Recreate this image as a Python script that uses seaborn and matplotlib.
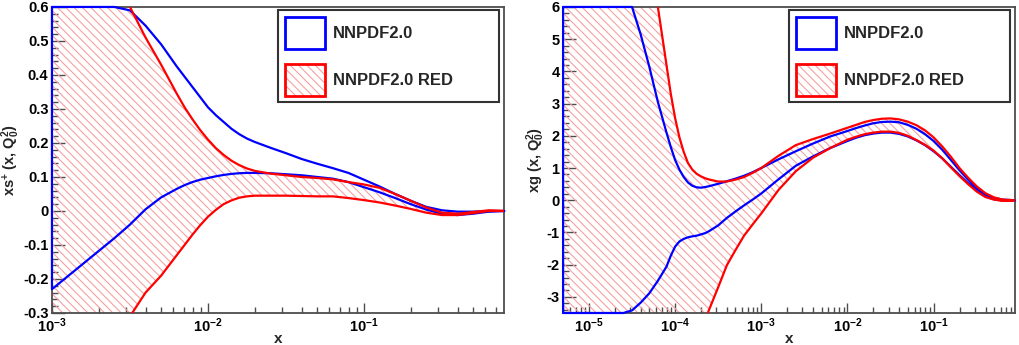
import numpy as np
import pandas as pd
import matplotlib
matplotlib.use("Agg")
import matplotlib.pyplot as plt
import seaborn as sns
from matplotlib.patches import Patch
from matplotlib.ticker import FixedLocator, MultipleLocator, LogLocator, NullFormatter

# --- donnees (log10 x) ---
# panneau gauche : xs+(x, Q0^2)
s_logx = [-3.0, -2.8, -2.6, -2.5, -2.4, -2.3, -2.2, -2.15, -2.1, -2.05, -2.0, -1.95, -1.9, -1.85,
          -1.8, -1.75, -1.7, -1.6, -1.5, -1.4, -1.3, -1.2, -1.1, -1.0, -0.9, -0.8, -0.7, -0.6,
          -0.5, -0.4, -0.3, -0.2, -0.1]
s_blue_up = [0.85, 0.74, 0.64, 0.59, 0.545, 0.49, 0.425, 0.395, 0.365, 0.335, 0.305, 0.282, 0.262, 0.242,
             0.226, 0.213, 0.203, 0.186, 0.17, 0.153, 0.139, 0.126, 0.112, 0.092, 0.072, 0.05, 0.03, 0.012,
             0.002, -0.002, -0.002, 0.0, 0.0]
s_blue_lo = [-0.23, -0.155, -0.08, -0.04, 0.005, 0.04, 0.065, 0.076, 0.085, 0.092, 0.097, 0.102, 0.106, 0.109,
             0.111, 0.112, 0.112, 0.111, 0.108, 0.105, 0.10, 0.095, 0.085, 0.07, 0.055, 0.038, 0.02, 0.004,
             -0.008, -0.012, -0.008, -0.002, 0.0]
s_red_up = [1.4, 1.0, 0.72, 0.60, 0.51, 0.43, 0.345, 0.305, 0.27, 0.238, 0.21, 0.185, 0.165, 0.148,
            0.135, 0.125, 0.118, 0.11, 0.105, 0.10, 0.097, 0.093, 0.085, 0.078, 0.068, 0.05, 0.03, 0.01,
            -0.005, -0.008, -0.003, 0.002, 0.0]
s_red_lo = [-0.8, -0.6, -0.4, -0.31, -0.24, -0.19, -0.13, -0.10, -0.07, -0.042, -0.017, 0.003, 0.02, 0.031,
            0.039, 0.043, 0.045, 0.045, 0.045, 0.044, 0.043, 0.043, 0.038, 0.032, 0.025, 0.016, 0.006, -0.005,
            -0.012, -0.012, -0.006, 0.0, 0.0]

# panneau droit : xg(x, Q0^2)
g_logx = [-5.3, -5.0, -4.8, -4.6, -4.5, -4.4, -4.3, -4.2, -4.1, -4.05, -4.0, -3.95, -3.9, -3.85,
          -3.8, -3.75, -3.7, -3.65, -3.6, -3.5, -3.4, -3.3, -3.2, -3.1, -3.0, -2.8, -2.6, -2.4,
          -2.2, -2.0, -1.9, -1.8, -1.7, -1.6, -1.5, -1.4, -1.3, -1.2, -1.1, -1.0, -0.9, -0.8,
          -0.7, -0.6, -0.5, -0.4, -0.3, -0.2, -0.06]
g_blue_up = [14.5, 11.4, 9.3, 7.2, 6.2, 5.15, 4.15, 3.05, 2.1, 1.65, 1.25, 0.95, 0.72, 0.55,
             0.45, 0.40, 0.39, 0.41, 0.44, 0.51, 0.59, 0.67, 0.76, 0.87, 1.0, 1.27, 1.52, 1.76,
             1.98, 2.15, 2.24, 2.32, 2.39, 2.43, 2.44, 2.42, 2.34, 2.22, 2.05, 1.84, 1.57, 1.25,
             0.93, 0.64, 0.37, 0.18, 0.07, 0.02, 0.0]
g_blue_lo = [-5.5, -4.75, -4.2, -3.7, -3.42, -3.18, -2.89, -2.5, -2.06, -1.72, -1.44, -1.28, -1.2, -1.15,
             -1.12, -1.1, -1.06, -1.02, -0.95, -0.78, -0.55, -0.35, -0.16, 0.02, 0.21, 0.65, 1.07, 1.36,
             1.62, 1.84, 1.94, 2.02, 2.07, 2.10, 2.10, 2.06, 1.98, 1.86, 1.71, 1.52, 1.30, 1.04,
             0.78, 0.53, 0.30, 0.12, 0.03, -0.01, -0.02]
g_red_up = [28, 22, 18, 14, 11.5, 9.6, 7.8, 6.0, 4.2, 3.3, 2.55, 1.95, 1.5, 1.15,
            0.95, 0.82, 0.74, 0.68, 0.64, 0.58, 0.58, 0.64, 0.72, 0.85, 1.0, 1.38, 1.71, 1.9,
            2.07, 2.25, 2.34, 2.43, 2.49, 2.53, 2.54, 2.51, 2.44, 2.33, 2.17, 1.95, 1.67, 1.35,
            1.0, 0.70, 0.43, 0.22, 0.09, 0.02, 0.0]
g_red_lo = [-15, -13, -11.5, -10, -9.3, -8.6, -7.9, -7.2, -6.5, -6.15, -5.8, -5.5, -5.2, -4.9,
            -4.6, -4.3, -4.05, -3.7, -3.36, -2.7, -2.02, -1.55, -1.1, -0.75, -0.41, 0.32, 0.9, 1.32,
            1.62, 1.88, 1.97, 2.05, 2.10, 2.13, 2.13, 2.09, 2.0, 1.87, 1.72, 1.54, 1.30, 1.02,
            0.75, 0.50, 0.27, 0.10, 0.02, -0.02, -0.02]

s_yticks = [-0.3, -0.2, -0.1, 0.0, 0.1, 0.2, 0.3, 0.4, 0.5, 0.6]
s_yticklabels = ["-0.3", "-0.2", "-0.1", "0", "0.1", "0.2", "0.3", "0.4", "0.5", "0.6"]
g_yticks = [-3, -2, -1, 0, 1, 2, 3, 4, 5, 6]
g_yticklabels = ["-3", "-2", "-1", "0", "1", "2", "3", "4", "5", "6"]
s_xexp = [-3, -2, -1]
g_xexp = [-5, -4, -3, -2, -1]

labels = ["NNPDF2.0", "NNPDF2.0 RED"]

sns.set_theme(style="ticks")
plt.rcParams["font.family"] = ["Liberation Sans", "DejaVu Sans"]
plt.rcParams["font.weight"] = "bold"
plt.rcParams["mathtext.fontset"] = "custom"
plt.rcParams["mathtext.rm"] = "Liberation Sans:bold"
plt.rcParams["mathtext.bf"] = "Liberation Sans:bold"
plt.rcParams["mathtext.it"] = "Liberation Sans:bold"
plt.rcParams["mathtext.default"] = "bf"
plt.rcParams["hatch.linewidth"] = 0.8

BLUE = "#0000ff"
RED = "#ff0000"
HATCH = "#f5a0a0"
FRAME = "#4d4d4d"


def draw_panel(ax, logx, bu, bl, ru, rl, ylim, xlim, ylab, ylab_x, yticks, yticklabels, xexp, yminor):
    x = 10.0 ** np.array(logx)
    ylo, yhi = ylim
    df = pd.DataFrame({"x": x, "bu": bu, "bl": bl, "ru": ru, "rl": rl})

    # bande RED hachuree
    ax.fill_between(df["x"], df["rl"], df["ru"], facecolor="none", edgecolor=HATCH,
                    hatch="\\\\\\\\", linewidth=0, zorder=1)

    # contour de la bande NNPDF2.0 (ferme, coupe aux bords)
    cu = np.clip(df["bu"].values, ylo, yhi)
    cl = np.clip(df["bl"].values, ylo, yhi)
    poly = pd.DataFrame({"x": np.concatenate([x, x[::-1], x[:1]]),
                         "y": np.concatenate([cu, cl[::-1], cu[:1]])})
    sns.lineplot(data=poly, x="x", y="y", ax=ax, color=BLUE, lw=1.6,
                 estimator=None, sort=False, zorder=3)
    for line in ax.lines:
        line.set_clip_on(False)

    sns.lineplot(data=df, x="x", y="ru", ax=ax, color=RED, lw=1.6, estimator=None, sort=False, zorder=4)
    sns.lineplot(data=df, x="x", y="rl", ax=ax, color=RED, lw=1.6, estimator=None, sort=False, zorder=4)

    ax.set_xscale("log")
    ax.set_xlim(*xlim)
    ax.set_ylim(*ylim)

    ax.yaxis.set_major_locator(FixedLocator(yticks))
    ax.set_yticklabels(yticklabels)
    ax.yaxis.set_minor_locator(MultipleLocator(yminor))
    xt = [10.0 ** e for e in xexp]
    ax.xaxis.set_major_locator(FixedLocator(xt))
    ax.set_xticklabels([r"$10^{%d}$" % e for e in xexp])
    ax.xaxis.set_minor_locator(LogLocator(base=10, subs=np.arange(2, 10)))
    ax.xaxis.set_minor_formatter(NullFormatter())

    ax.tick_params(axis="both", which="both", direction="in", color=FRAME,
                   top=False, right=False, labelsize=10.5, labelcolor="black", pad=2.5)
    ax.tick_params(axis="y", which="major", length=9.5, width=1)
    ax.tick_params(axis="y", which="minor", length=4.5, width=1)
    ax.tick_params(axis="x", which="major", length=7.5, width=1)
    ax.tick_params(axis="x", which="minor", length=4, width=1)

    for sp in ax.spines.values():
        sp.set_visible(True)
        sp.set_color(FRAME)
        sp.set_linewidth(1.3)

    ax.set_xlabel("x", fontsize=11, fontweight="bold")
    ax.xaxis.set_label_coords(0.5, -0.062)
    ax.set_ylabel(ylab, fontsize=10.5, fontweight="bold")
    ax.yaxis.set_label_coords(ylab_x, 0.5)

    h_blue = Patch(facecolor="white", edgecolor=BLUE, linewidth=2)
    h_hatch = Patch(facecolor="white", edgecolor=HATCH, hatch="\\\\\\\\", linewidth=0)
    h_red = Patch(facecolor="none", edgecolor=RED, linewidth=2)
    leg = ax.legend([h_blue, (h_hatch, h_red)], labels, loc="upper left",
                    bbox_to_anchor=(0.5, 0.69, 0.489, 0.30), mode="expand",
                    fontsize=12, frameon=True, fancybox=False, borderpad=0.4,
                    labelspacing=0.9, handlelength=2.4, handleheight=2.57,
                    handletextpad=0.5, borderaxespad=0)
    fr = leg.get_frame()
    fr.set_edgecolor("#333333")
    fr.set_linewidth(1.5)
    fr.set_alpha(1)
    leg.set_zorder(10)
    for t in leg.get_texts():
        t.set_fontweight("bold")


fig = plt.figure(figsize=(10.19, 3.45), dpi=100)
ax1 = fig.add_axes([0.051, 0.0928, 0.4436, 0.887])
ax2 = fig.add_axes([0.5525, 0.0928, 0.4436, 0.887])

draw_panel(ax1, s_logx, s_blue_up, s_blue_lo, s_red_up, s_red_lo, (-0.3, 0.6), (1e-3, 0.79),
           r"xs$^{+}$ (x, Q$_{0}^{2}$)", -0.066, s_yticks, s_yticklabels, s_xexp, 0.02)
draw_panel(ax2, g_logx, g_blue_up, g_blue_lo, g_red_up, g_red_lo, (-3.5, 6), (5e-6, 0.88),
           r"xg (x, Q$_{0}^{2}$)", -0.035, g_yticks, g_yticklabels, g_xexp, 0.2)

fig.savefig("out.png", dpi=100)
